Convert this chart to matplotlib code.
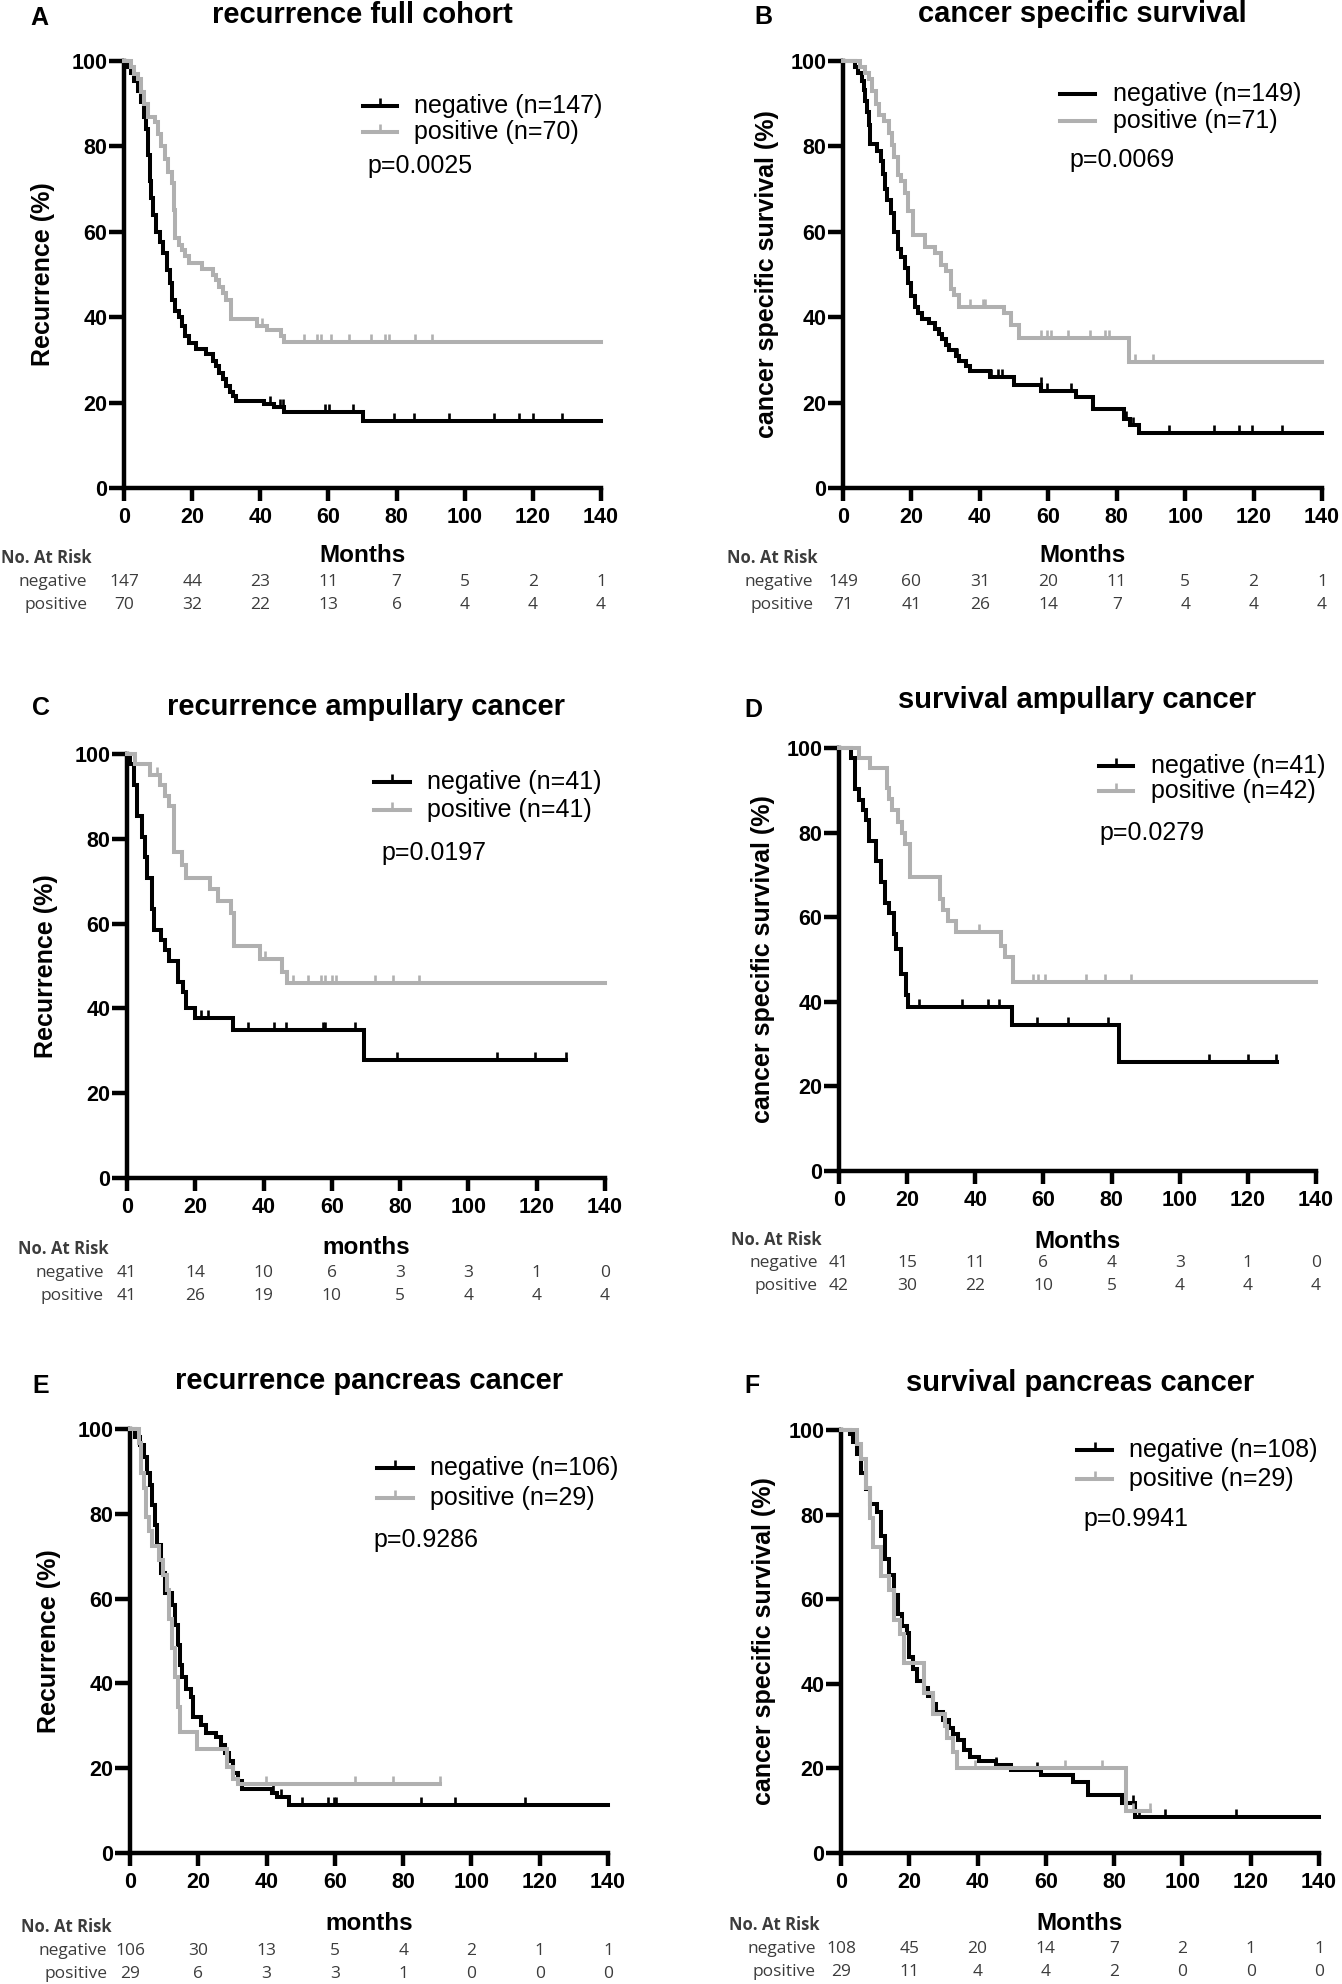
import numpy as np
import matplotlib
matplotlib.use('Agg')
import matplotlib.pyplot as plt
from matplotlib.path import Path
from matplotlib.lines import Line2D
from matplotlib.transforms import blended_transform_factory

# ---------------------------------------------------------------- data
months_ticks = [0, 20, 40, 60, 80, 100, 120, 140]
pct_ticks = [0, 20, 40, 60, 80, 100]

panel_letters = ['A', 'B', 'C', 'D', 'E', 'F']
titles = ['recurrence full cohort', 'cancer specific survival',
          'recurrence ampullary cancer', 'survival ampullary cancer',
          'recurrence pancreas cancer', 'survival pancreas cancer']
ylabels = ['Recurrence (%)', 'cancer specific survival (%)',
           'Recurrence (%)', 'cancer specific survival (%)',
           'Recurrence (%)', 'cancer specific survival (%)']
xlabels = ['Months', 'Months', 'months', 'Months', 'months', 'Months']
neg_labels = ['negative (n=147)', 'negative (n=149)', 'negative (n=41)',
              'negative (n=41)', 'negative (n=106)', 'negative (n=108)']
pos_labels = ['positive (n=70)', 'positive (n=71)', 'positive (n=41)',
              'positive (n=42)', 'positive (n=29)', 'positive (n=29)']
p_values = ['p=0.0025', 'p=0.0069', 'p=0.0197', 'p=0.0279', 'p=0.9286', 'p=0.9941']

# Panel A
A_neg_t = [0, 1, 2, 3, 4, 5, 6, 6.5, 7, 7.5, 8, 8.5, 9.5, 10.5, 11.5, 12.5, 13.5, 14.2, 15, 16, 17, 18,
           19, 21, 24, 26, 27, 28, 29, 30, 31, 32, 33, 41, 44, 47, 70]
A_neg_s = [100, 98.6, 97.3, 95.2, 93, 90.5, 87, 84, 78, 72, 68, 64, 60, 57.5, 55, 51, 48, 44, 41.5, 40,
           38, 35.5, 34, 32.5, 31.3, 29.8, 28.5, 27, 25.5, 24, 22.5, 21.5, 20.4, 19.6, 18.9, 17.7, 15.8]
A_neg_end = 140
A_neg_cens = [42.9, 45.8, 46.7, 59, 60.3, 67.2, 79.1, 85.1, 95.4, 108.6, 115.8, 119.9, 128.7]
A_pos_t = [0, 2, 3, 4, 5, 6, 7, 9, 10, 11, 12, 13, 14, 14.7, 15, 16, 17, 18, 19, 23, 26, 27, 28, 29, 30,
           31.5, 39, 42, 46, 47]
A_pos_s = [100, 98.6, 97, 95.7, 92.8, 90, 87, 85.7, 82.8, 80, 77, 74, 71.4, 65, 58.5, 57, 55.7, 54.3,
           52.8, 51.4, 50, 48.6, 47.1, 45.7, 44, 39.6, 38, 37, 35.6, 34.2]
A_pos_end = 140
A_pos_cens = [40.4, 52.7, 56.5, 57.8, 60.9, 65.9, 72.6, 76.6, 77.8, 85.4, 90.4]
A_risk_neg = [147, 44, 23, 11, 7, 5, 2, 1]
A_risk_pos = [70, 32, 22, 13, 6, 4, 4, 4]

# Panel B
B_neg_t = [0, 3.5, 4.5, 5.5, 6, 6.5, 7, 7.5, 8, 10, 11, 11.7, 12.3, 13, 14, 15, 16, 17, 18, 19, 20, 21,
           22, 23, 25, 27, 28, 29, 30, 31, 33, 34, 36, 37, 43, 50, 58, 68, 73, 82, 84, 86.5]
B_neg_s = [100, 98.7, 97.3, 95.3, 93.3, 90.6, 88, 85, 80.5, 79, 76.5, 73.5, 70, 67.5, 64.5, 60, 56, 54,
           51.5, 48, 45, 42.5, 41, 39.6, 38.6, 37.2, 36, 34.8, 33.5, 32.3, 31, 29.8, 28.6, 27.3, 26,
           24.2, 22.8, 21.3, 18.6, 16.2, 14.8, 12.9]
B_neg_end = 140
B_neg_cens = [33.4, 43.4, 45.3, 46.6, 57.8, 59.7, 66.6, 82.8, 84.7, 95.3, 108.5, 115.7, 119.5, 128.2]
B_pos_t = [0, 5, 6.5, 7.5, 8.5, 9.5, 10.5, 12, 13.3, 14.3, 15, 16, 17, 18, 19, 20.5, 24, 27, 28.5, 30,
           31.5, 32.5, 34, 47, 49, 51.5, 83.5]
B_pos_s = [100, 98.6, 97.2, 95.8, 93, 90, 87.3, 85.9, 83.1, 80.3, 77.5, 73.2, 71.8, 69, 64.8, 59.2,
           56.4, 55, 52.2, 50.8, 46.5, 45.1, 42.3, 40.9, 38.1, 35.2, 29.6]
B_pos_end = 140
B_pos_cens = [37.2, 40.9, 41.5, 57.8, 59.7, 60.9, 65.9, 72.2, 76.6, 77.8, 85.3, 90.7]
B_risk_neg = [149, 60, 31, 20, 11, 5, 2, 1]
B_risk_pos = [71, 41, 26, 14, 7, 4, 4, 4]

# Panel C
C_neg_t = [0, 1, 2, 3, 4.5, 5.4, 6, 7.2, 8, 10, 11, 12.3, 14.8, 16.5, 17.3, 19.8, 31.1, 69.4]
C_neg_s = [100, 97.6, 92.7, 85.4, 80.5, 75.6, 70.7, 63.4, 58.5, 56.1, 53.7, 51.2, 46.3, 43.9, 40.2,
           37.8, 34.8, 27.8]
C_neg_end = 128.6
C_neg_cens = [21.7, 23.6, 35.5, 43, 46.5, 57.5, 58.1, 66.9, 79.2, 108.3, 119.6, 128.6]
C_pos_t = [0, 2.3, 6.6, 9.8, 11, 12.3, 13.9, 16, 17.3, 24.2, 26.7, 30.5, 31.4, 39, 45.5, 46.8]
C_pos_s = [100, 97.6, 95.1, 92.7, 90.2, 87.8, 76.8, 73.8, 70.8, 68.2, 65.3, 62.5, 54.7, 51.6, 48.6, 46.0]
C_pos_end = 140
C_pos_cens = [8.9, 40.5, 48.7, 53.1, 56.8, 58.1, 60, 61.2, 72.5, 77.9, 85.4]
C_risk_neg = [41, 14, 10, 6, 3, 3, 1, 0]
C_risk_pos = [41, 26, 19, 10, 5, 4, 4, 4]

# Panel D
D_neg_t = [0, 3.5, 4.6, 5.9, 6.9, 7.8, 8.7, 10.9, 12.2, 13.4, 14.7, 16, 16.8, 18.3, 19.7, 20.3, 50.7, 82.2]
D_neg_s = [100, 97.6, 90.2, 87.8, 85.4, 82.9, 78.0, 73.2, 68.3, 63.4, 61.0, 56.1, 52.5, 46.5, 41.5,
           38.8, 34.4, 25.8]
D_neg_end = 128.7
D_neg_cens = [23.5, 36, 43.6, 47.1, 58, 67.2, 79, 108.6, 119.9, 128.4]
D_pos_t = [0, 5.9, 9, 14, 14.8, 15.5, 17.2, 18.5, 19.5, 20.7, 29.5, 30.5, 32, 34.2, 47.6, 48.6, 51.1]
D_pos_s = [100, 97.6, 95.2, 90.5, 88, 85.3, 82.4, 79.9, 77.2, 69.5, 64.4, 61.8, 59.2, 56.6, 53.2,
           50.6, 44.7]
D_pos_end = 140
D_pos_cens = [41.1, 56.8, 58.4, 60.5, 72.5, 78.1, 85.6]
D_risk_neg = [41, 15, 11, 6, 4, 3, 1, 0]
D_risk_pos = [42, 30, 22, 10, 5, 4, 4, 4]

# Panel E
E_neg_t = [0, 1.5, 2.8, 4, 5, 5.8, 6.5, 7.2, 8, 9, 10.3, 12.2, 13.2, 14, 14.7, 15.3, 16.5, 17.8, 18.4,
           20.9, 22.2, 25.3, 26.6, 27.8, 29.1, 30.3, 31.6, 32.8, 41.6, 43.2, 46.6]
E_neg_s = [100, 98.1, 96.2, 93.4, 89.6, 86.8, 82.1, 77.4, 72.6, 66.0, 61.3, 58.5, 53.8, 49.1, 44.3,
           41.5, 38.7, 36.8, 32.1, 30.2, 28.3, 27.4, 25.5, 23.6, 21.7, 18.9, 17.0, 15.1, 14.2, 13.2, 11.3]
E_neg_end = 140
E_neg_cens = [42, 44.1, 50.4, 57.9, 59.8, 60.4, 85.1, 95.1, 115.6]
E_pos_t = [0, 2.5, 3.3, 4, 4.8, 5.5, 6.5, 8.4, 9.7, 10.9, 11.5, 12.3, 13.2, 14, 14.7, 19.7, 28.5,
           30.3, 31.5]
E_pos_s = [100, 96.6, 89.7, 86.2, 79.3, 75.9, 72.4, 69, 65.5, 62.1, 55.2, 48.3, 41.4, 34.5, 28.6,
           24.5, 20.4, 17.5, 16.3]
E_pos_end = 90.9
E_pos_cens = [39.7, 66, 77, 90.9]
E_risk_neg = [106, 30, 13, 5, 4, 2, 1, 1]
E_risk_pos = [29, 6, 3, 3, 1, 0, 0, 0]

# Panel F
F_neg_t = [0, 2.5, 3.5, 4.8, 6, 7.3, 8.5, 10.4, 11.6, 12.9, 14.1, 15.4, 16.7, 17.9, 19.2, 19.8, 21,
           22.3, 24.2, 25.4, 27, 27.9, 29.8, 31.7, 32.9, 34.4, 36.1, 37.9, 40.4, 45.5, 49.8, 58.6, 68,
           72.4, 82.4, 86.2]
F_neg_s = [100, 99, 97.2, 94.4, 89.8, 86.1, 82.4, 80.6, 75, 69.4, 65.7, 61.1, 56.5, 53.7, 51.9, 46.3,
           43.5, 40.7, 38.9, 37, 35.2, 33.3, 31.5, 29.6, 28.2, 26.7, 24.3, 22.8, 21.8, 20.9, 19.7,
           18.5, 16.8, 13.7, 11.8, 8.4]
F_neg_end = 140
F_neg_cens = [45.5, 57.4, 85.5, 87.4, 94.9, 115.6]
F_pos_t = [0, 4.8, 6, 7.3, 8.5, 9.4, 11.6, 14.1, 15.4, 17.3, 18.5, 24.4, 26.9, 30.4, 31, 32.9, 33.9, 83.4]
F_pos_s = [100, 96.6, 93.1, 86.2, 79.3, 72.4, 65.5, 62.1, 55.2, 51.7, 44.8, 37.9, 32.8, 30.1, 27.3,
           23.9, 20.0, 10.0]
F_pos_end = 90.5
F_pos_cens = [39.2, 65.5, 76.5, 85.5, 90.5]
F_risk_neg = [108, 45, 20, 14, 7, 2, 1, 1]
F_risk_pos = [29, 11, 4, 4, 2, 0, 0, 0]

curves = {
    'A': (A_neg_t, A_neg_s, A_neg_end, A_neg_cens, A_pos_t, A_pos_s, A_pos_end, A_pos_cens, A_risk_neg, A_risk_pos),
    'B': (B_neg_t, B_neg_s, B_neg_end, B_neg_cens, B_pos_t, B_pos_s, B_pos_end, B_pos_cens, B_risk_neg, B_risk_pos),
    'C': (C_neg_t, C_neg_s, C_neg_end, C_neg_cens, C_pos_t, C_pos_s, C_pos_end, C_pos_cens, C_risk_neg, C_risk_pos),
    'D': (D_neg_t, D_neg_s, D_neg_end, D_neg_cens, D_pos_t, D_pos_s, D_pos_end, D_pos_cens, D_risk_neg, D_risk_pos),
    'E': (E_neg_t, E_neg_s, E_neg_end, E_neg_cens, E_pos_t, E_pos_s, E_pos_end, E_pos_cens, E_risk_neg, E_risk_pos),
    'F': (F_neg_t, F_neg_s, F_neg_end, F_neg_cens, F_pos_t, F_pos_s, F_pos_end, F_pos_cens, F_risk_neg, F_risk_pos),
}

# ---------------------------------------------------------------- layout (pixels)
W, H = 1342, 1984
# x0, x1, ytop(100), ybot(0)
rects = {
    'A': (124, 601, 61, 488), 'B': (843, 1322, 61, 488),
    'C': (127, 605, 754, 1178), 'D': (839, 1316, 748, 1171),
    'E': (130, 608, 1429, 1853), 'F': (841, 1319, 1430, 1853),
}
# title baseline, letter x, letter baseline, ylabel x
heads = {
    'A': (23, 30, 25, 43), 'B': (22, 754, 24, 767),
    'C': (715, 32, 715, 46), 'D': (708, 744, 717, 763),
    'E': (1389, 32, 1393, 49), 'F': (1391, 744, 1393, 764),
}
# legend: line x0, x1, text x, neg y, pos y, p x, p y, show tick
legends = {
    'A': (363, 397, 414, 106, 132, 367, 166, True),
    'B': (1060, 1095, 1113, 94, 121, 1069, 160, False),
    'C': (374, 410, 427, 782, 810, 381, 853, True),
    'D': (1099, 1133, 1151, 766, 791, 1099, 833, True),
    'E': (377, 413, 430, 1468, 1498, 373, 1540, True),
    'F': (1077, 1112, 1129, 1450, 1479, 1083, 1519, True),
}
# risk table: months y, "No. At Risk" y, neg y, pos y, label right x, "No. At Risk" left x (px)
tables = {
    'A': (556, 558, 582, 605, 87, 1),
    'B': (556, 558, 582, 605, 813, 727),
    'C': (1248, 1249, 1273, 1296, 104, 18),
    'D': (1241, 1240, 1263, 1286, 818, 731),
    'E': (1923, 1927, 1951, 1974, 107, 21),
    'F': (1923, 1925, 1949, 1972, 816, 729),
}

BLACK = '#000000'
GREY = '#b0b0b0'
TABLE_COLOR = '#3c3c3c'
SANS = 'Liberation Sans'
TABLE_FONT = 'Open Sans'
LW = 2.9

tick_marker = Path([(0, 0), (0, 1)], [Path.MOVETO, Path.LINETO])

fig = plt.figure(figsize=(W / 100, H / 100), dpi=100)


def fx(x):
    return x / W


def fy(y):
    return 1 - y / H


def step_value(ts, ss, x):
    idx = np.searchsorted(np.asarray(ts), x, side='right') - 1
    return np.asarray(ss)[idx]


for i, key in enumerate(panel_letters):
    x0, x1, yt, yb = rects[key]
    ax = fig.add_axes([fx(x0), fy(yb), (x1 - x0) / W, (yb - yt) / H])
    (nt, ns, nend, ncens, pt, ps, pend, pcens, rneg, rpos) = curves[key]

    for ts, ss, tend, cens, col, lab in ((nt, ns, nend, ncens, BLACK, neg_labels[i]),
                                          (pt, ps, pend, pcens, GREY, pos_labels[i])):
        xs = np.append(ts, tend)
        ys = np.append(ss, ss[-1])
        ax.plot(xs, ys, drawstyle='steps-post', color=col, lw=LW, clip_on=False,
                solid_joinstyle='miter', label=lab, zorder=3)
        cy = step_value(ts, ss, np.asarray(cens))
        ax.plot(cens, cy, linestyle='none', marker=tick_marker, markersize=11,
                markeredgewidth=1.9, color=col, clip_on=False, zorder=3)

    ax.set_xlim(0, 140)
    ax.set_ylim(0, 100)
    for s in ('top', 'right'):
        ax.spines[s].set_visible(False)
    for s in ('left', 'bottom'):
        ax.spines[s].set_linewidth(3.2)
        ax.spines[s].set_capstyle('projecting')
    ax.set_xticks(months_ticks, labels=[str(v) for v in months_ticks],
                  fontsize=15.5, fontweight='bold', family=SANS)
    ax.set_yticks(pct_ticks, labels=[str(v) for v in pct_ticks],
                  fontsize=15.5, fontweight='bold', family=SANS)
    ax.tick_params(axis='x', direction='out', length=9, width=3.2, pad=5)
    ax.tick_params(axis='y', direction='out', length=11, width=3.2, pad=1)

    # titles, letters, y label
    tb, lx, lb, ylx = heads[key]
    fig.text(fx((x0 + x1) / 2), fy(tb), titles[i], ha='center', va='baseline',
             fontsize=21, fontweight='bold', family=SANS)
    fig.text(fx(lx), fy(lb), key, ha='left', va='baseline',
             fontsize=18, fontweight='bold', family=SANS)
    fig.text(fx(ylx), fy((yt + yb) / 2), ylabels[i], ha='center', va='center', rotation=90,
             fontsize=18, fontweight='bold', family=SANS)

    # legend
    lx0, lx1, ltx, lny, lpy, ppx, ppy, show_tick = legends[key]
    for yy, col, lab in ((lny, BLACK, neg_labels[i]), (lpy, GREY, pos_labels[i])):
        fig.add_artist(Line2D([fx(lx0), fx(lx1)], [fy(yy), fy(yy)], transform=fig.transFigure,
                              color=col, lw=LW))
        if show_tick:
            fig.add_artist(Line2D([fx((lx0 + lx1) / 2)], [fy(yy)], transform=fig.transFigure,
                                  linestyle='none', marker=tick_marker, markersize=11,
                                  markeredgewidth=1.9, color=col))
        fig.text(fx(ltx), fy(yy), lab, ha='left', va='center', fontsize=18, family=SANS)
    fig.text(fx(ppx), fy(ppy), p_values[i], ha='left', va='center', fontsize=18, family=SANS)

    # months label & risk table
    my, nary, ny, py, rlx, nlx = tables[key]
    fig.text(fx((x0 + x1) / 2), fy(my), xlabels[i], ha='center', va='center',
             fontsize=17.5, fontweight='bold', family=SANS)
    fig.text(fx(nlx), fy(nary), 'No. At Risk', ha='left', va='center', fontsize=12,
             fontweight='bold', family=TABLE_FONT, color=TABLE_COLOR)
    fig.text(fx(rlx), fy(ny), 'negative', ha='right', va='center', fontsize=12.5,
             family=TABLE_FONT, color=TABLE_COLOR)
    fig.text(fx(rlx), fy(py), 'positive', ha='right', va='center', fontsize=12.5,
             family=TABLE_FONT, color=TABLE_COLOR)
    trans = blended_transform_factory(ax.transData, ax.transAxes)
    for row_y, vals in ((ny, rneg), (py, rpos)):
        ya = (yb - row_y) / (yb - yt)
        for m, v in zip(months_ticks, vals):
            ax.text(m, ya, str(v), transform=trans, ha='center', va='center', fontsize=12.5,
                    family=TABLE_FONT, color=TABLE_COLOR, clip_on=False)

fig.savefig('out.png', dpi=100)
